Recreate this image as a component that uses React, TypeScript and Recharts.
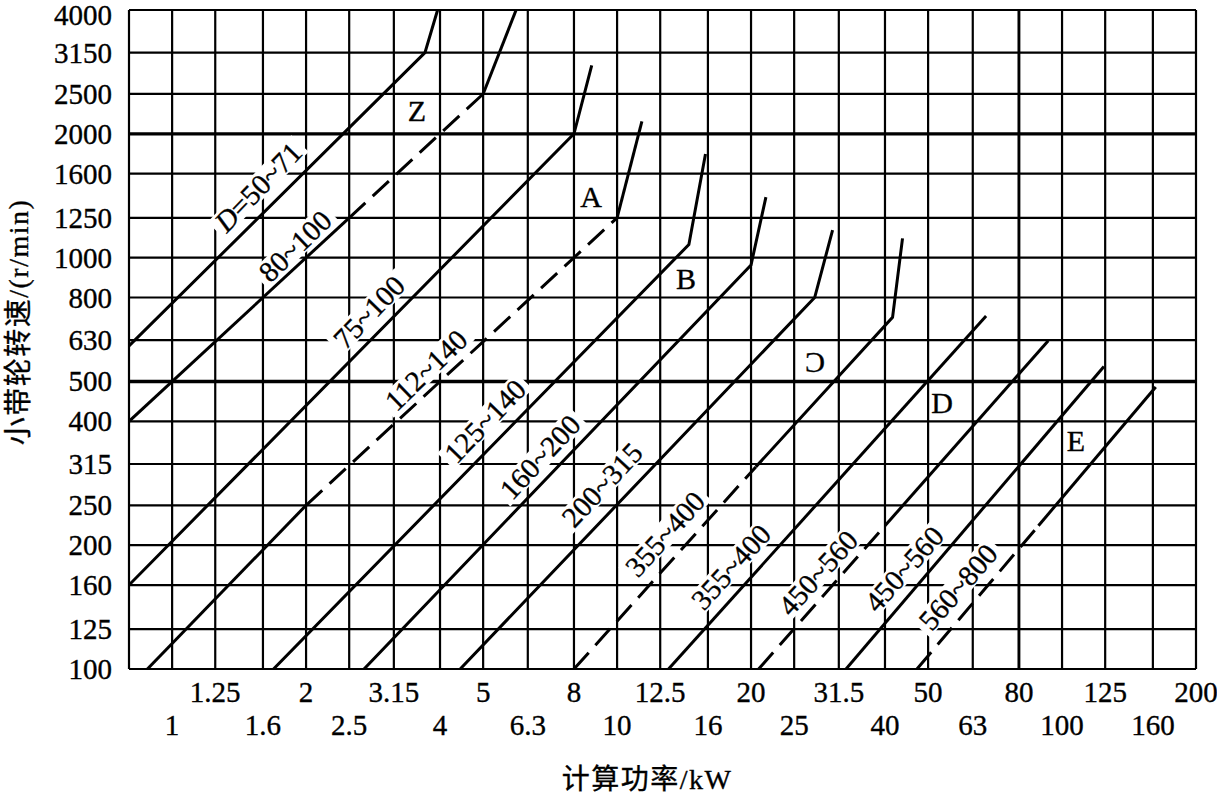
import { LineChart, Line, XAxis, YAxis, ReferenceLine } from 'recharts';

const FONT = "'Liberation Serif', 'Times New Roman', 'Noto Sans CJK SC', serif";

// axis ticks (R10 series)
const xTicks = [0.8, 1, 1.25, 1.6, 2, 2.5, 3.15, 4, 5, 6.3, 8, 10, 12.5, 16, 20, 25, 31.5, 40, 50, 63, 80, 100, 125, 160, 200];
const xUpperLabels = [1.25, 2, 3.15, 5, 8, 12.5, 20, 31.5, 50, 80, 125, 200];
const xLowerLabels = [1, 1.6, 2.5, 4, 6.3, 10, 16, 25, 40, 63, 100, 160];
const yTicks = [100, 125, 160, 200, 250, 315, 400, 500, 630, 800, 1000, 1250, 1600, 2000, 2500, 3150, 4000];
const boldY = [500, 2000];
const boldX = [80];

// sheave-diameter lines, p = kW, n = r/min
const z50_71 = [{ p: 0.8, n: 610 }, { p: 3.7, n: 3150 }, { p: 3.95, n: 4000 }];
const z80_100 = [{ p: 0.8, n: 400 }, { p: 2.5, n: 1250 }];
const z80_100Dash = [{ p: 2.5, n: 1250 }, { p: 5, n: 2500 }];
const z80_100Top = [{ p: 5, n: 2500 }, { p: 5.93, n: 4000 }];
const a75_100 = [{ p: 0.8, n: 160 }, { p: 8, n: 2000 }, { p: 8.77, n: 2935 }];
const a112_140 = [{ p: 0.88, n: 100 }, { p: 2, n: 250 }];
const a112_140Dash = [{ p: 2, n: 250 }, { p: 10, n: 1250 }];
const a112_140Top = [{ p: 10, n: 1250 }, { p: 11.37, n: 2143 }];
const b125_140 = [{ p: 1.69, n: 100 }, { p: 14.5, n: 1076 }, { p: 15.8, n: 1786 }];
const b160_200 = [{ p: 2.7, n: 100 }, { p: 20, n: 960 }, { p: 21.6, n: 1403 }];
const c200_315 = [{ p: 4.44, n: 100 }, { p: 27.8, n: 800 }, { p: 30.5, n: 1166 }];
const c355_400Dash = [{ p: 8, n: 100 }, { p: 20.5, n: 310 }];
const c355_400 = [{ p: 20.5, n: 310 }, { p: 41.6, n: 716 }, { p: 43.8, n: 1114 }];
const d355_400 = [{ p: 13.05, n: 100 }, { p: 67.5, n: 721 }];
const d450_560Dash = [{ p: 20.8, n: 100 }, { p: 40, n: 223 }];
const d450_560 = [{ p: 40, n: 223 }, { p: 93.1, n: 628 }];
const e450_560 = [{ p: 32.7, n: 100 }, { p: 124.2, n: 544 }];
const e560_800Dash = [{ p: 47.2, n: 100 }, { p: 88.5, n: 223 }];
const e560_800 = [{ p: 88.5, n: 223 }, { p: 162.4, n: 485 }];

const segments = [
  { id: 'z50_71', data: z50_71, dashed: false },
  { id: 'z80_100', data: z80_100, dashed: false },
  { id: 'z80_100Dash', data: z80_100Dash, dashed: true },
  { id: 'z80_100Top', data: z80_100Top, dashed: false },
  { id: 'a75_100', data: a75_100, dashed: false },
  { id: 'a112_140', data: a112_140, dashed: false },
  { id: 'a112_140Dash', data: a112_140Dash, dashed: true },
  { id: 'a112_140Top', data: a112_140Top, dashed: false },
  { id: 'b125_140', data: b125_140, dashed: false },
  { id: 'b160_200', data: b160_200, dashed: false },
  { id: 'c200_315', data: c200_315, dashed: false },
  { id: 'c355_400Dash', data: c355_400Dash, dashed: true },
  { id: 'c355_400', data: c355_400, dashed: false },
  { id: 'd355_400', data: d355_400, dashed: false },
  { id: 'd450_560Dash', data: d450_560Dash, dashed: true },
  { id: 'd450_560', data: d450_560, dashed: false },
  { id: 'e450_560', data: e450_560, dashed: false },
  { id: 'e560_800Dash', data: e560_800Dash, dashed: true },
  { id: 'e560_800', data: e560_800, dashed: false },
];

// diameter labels along the lines
const lineLabels = [
  { text: 'D=50~71', x: 258, y: 187, angle: -46 },
  { text: '80~100', x: 295, y: 246, angle: -44 },
  { text: '75~100', x: 369, y: 312, angle: -46 },
  { text: '112~140', x: 426, y: 370, angle: -44 },
  { text: '125~140', x: 485, y: 421, angle: -46 },
  { text: '160~200', x: 540, y: 457, angle: -47 },
  { text: '200~315', x: 602, y: 485, angle: -47 },
  { text: '355~400', x: 665, y: 534, angle: -48 },
  { text: '355~400', x: 731, y: 567, angle: -48 },
  { text: '450~560', x: 818, y: 573, angle: -48 },
  { text: '450~560', x: 904, y: 569, angle: -48.5 },
  { text: '560~800', x: 958, y: 587, angle: -49 },
];

const typeLabels = [
  { text: 'Z', x: 417, y: 111 },
  { text: 'A', x: 591, y: 197 },
  { text: 'B', x: 686, y: 279 },
  { text: 'C', x: 815, y: 362, mirror: true },
  { text: 'D', x: 942, y: 403 },
  { text: 'E', x: 1076, y: 441 },
];

const TICK_SIZE = 29;
const LABEL_SIZE = 29;
const INK = { fill: '#000', stroke: '#000', strokeWidth: 0.35 };
const charW: Record<string, number> = { '~': 0.541, '=': 0.564, D: 0.722 };
const textWidth = (s: string, size: number) =>
  s.split('').reduce((w, c) => w + (charW[c] ?? 0.5), 0) * size;

function XTick({ x, payload }: any) {
  const v = payload.value;
  const row = xUpperLabels.includes(v) ? 0 : xLowerLabels.includes(v) ? 1 : -1;
  if (row < 0) return <g />;
  return (
    <text x={x} y={row === 0 ? 702 : 735} textAnchor="middle" fontSize={TICK_SIZE} fontFamily={FONT} {...INK}>
      {String(v)}
    </text>
  );
}

function YTick({ y, payload }: any) {
  const top = payload.value === 4000;
  return (
    <text x={112} y={y + (top ? 15 : 10)} textAnchor="end" fontSize={TICK_SIZE} fontFamily={FONT} {...INK}>
      {String(payload.value)}
    </text>
  );
}

export default function App() {
  return (
    <div style={{ position: 'absolute', left: 0, top: 0, width: 1217, height: 796, background: '#fff' }}>
      <LineChart width={1217} height={796} margin={{ top: 10, right: 21, bottom: 0, left: 0 }}>
        <XAxis
          dataKey="p"
          type="number"
          scale="log"
          domain={[0.8, 200]}
          allowDataOverflow
          ticks={xTicks}
          interval={0}
          tick={(props: any) => <XTick {...props} />}
          tickLine={false}
          axisLine={false}
          height={127}
        />
        <YAxis
          dataKey="n"
          type="number"
          scale="log"
          domain={[100, 4000]}
          allowDataOverflow
          ticks={yTicks}
          interval={0}
          tick={(props: any) => <YTick {...props} />}
          tickLine={false}
          axisLine={false}
          width={129}
        />
        {xTicks.map((v) => (
          <ReferenceLine key={'x' + v} x={v} stroke="#000" strokeWidth={boldX.includes(v) ? 2.9 : 2.2} />
        ))}
        {yTicks.map((v) => (
          <ReferenceLine key={'y' + v} y={v} stroke="#000" strokeWidth={boldY.includes(v) ? 3.4 : 2.2} />
        ))}
        {segments.map((s) => (
          <Line
            key={s.id}
            data={s.data}
            dataKey="n"
            type="linear"
            stroke="#000"
            strokeWidth={3}
            strokeDasharray={s.dashed ? '22 10' : undefined}
            dot={false}
            activeDot={false}
            isAnimationActive={false}
          />
        ))}
      </LineChart>
      <svg width={1217} height={796} style={{ position: 'absolute', left: 0, top: 0, pointerEvents: 'none' }}>
        {lineLabels.map((l, i) => {
          const w = textWidth(l.text, LABEL_SIZE) + 10;
          const italicD = l.text.startsWith('D=');
          return (
            <g key={i} transform={`translate(${l.x},${l.y}) rotate(${l.angle})`}>
              <rect x={-w / 2} y={-12} width={w} height={24} fill="#fff" />
              <text x={0} y={10} textAnchor="middle" fontSize={LABEL_SIZE} fontFamily={FONT} {...INK}>
                {italicD ? (
                  <>
                    <tspan fontStyle="italic">D</tspan>
                    {l.text.slice(1)}
                  </>
                ) : (
                  l.text
                )}
              </text>
            </g>
          );
        })}
        {typeLabels.map((t) => (
          <text
            key={t.text}
            transform={`translate(${t.x},${t.y + 10}) scale(${t.mirror ? -1 : 1},1)`}
            textAnchor="middle"
            fontSize={30}
            fontFamily={FONT}
            {...INK}
          >
            {t.text}
          </text>
        ))}
        <text x={647} y={789} textAnchor="middle" fontSize={28} fontFamily={FONT} letterSpacing={1.5} {...INK}>
          计算功率/kW
        </text>
        <g transform="translate(18,322) rotate(-90)">
          <text x={0} y={0} textAnchor="middle" dominantBaseline="central" fontSize={28} fontFamily={FONT} letterSpacing={1.5} {...INK}>
            小带轮转速/(r/min)
          </text>
        </g>
      </svg>
    </div>
  );
}
